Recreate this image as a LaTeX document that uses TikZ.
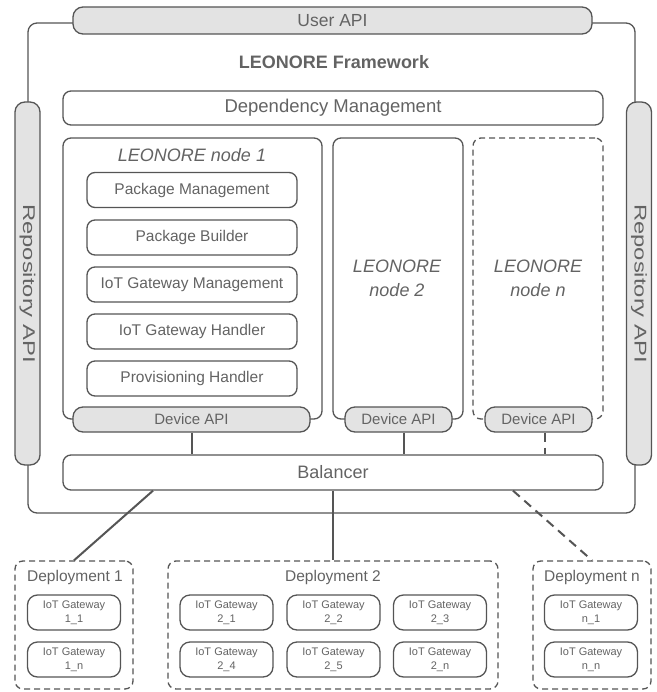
\documentclass[tikz,border=0pt]{standalone}
\usepackage{fontspec}
\setmainfont{Liberation Sans}
\usetikzlibrary{calc}
\definecolor{ln}{HTML}{555555}
\definecolor{tx}{HTML}{636363}
\definecolor{gf}{HTML}{E3E3E3}
\begin{document}
\begin{tikzpicture}[x=1pt,y=-1pt,
  box/.style={draw=ln, line width=1.3pt, rounded corners=8pt, inner sep=0pt, text=tx, align=center},
  api/.style={box, fill=gf, rounded corners=10pt},
  gw/.style={box, rounded corners=10pt, minimum width=93, minimum height=35, font=\fontsize{11}{14}\selectfont},
  inner/.style={box, minimum width=210, minimum height=35, font=\fontsize{15.5}{18}\selectfont},
  dsh/.style={dash pattern=on 6pt off 4pt},
  longdsh/.style={dash pattern=on 9pt off 6pt},
  lbl/.style={text=tx, inner sep=0pt, align=center},
  conn/.style={draw=ln, line width=2pt}]
\useasboundingbox (0,0) rectangle (656,692);
% framework frame
\node[box, rounded corners=9pt, minimum width=607, minimum height=490] (frame) at (331.5,268) {};
% repository APIs
\node[api, minimum width=25, minimum height=363] (repoL) at (27.5,283.5) {};
\node[lbl, rotate=-90, font=\fontsize{17}{20}\selectfont] (repoLt) at (repoL.center) {\scalebox{1.4}[1]{Repository API}};
\node[api, minimum width=25, minimum height=363] (repoR) at (639,283.5) {};
\node[lbl, rotate=-90, font=\fontsize{17}{20}\selectfont] (repoRt) at (repoR.center) {\scalebox{1.4}[1]{Repository API}};
% user API
\node[api, minimum width=519, minimum height=27, font=\fontsize{17.5}{20}\selectfont] (user) at (332.5,20.5) {User API};
% title
\node[lbl, font=\fontsize{18}{22}\selectfont\bfseries] (title) at (334,62) {LEONORE Framework};
% dependency management
\node[box, minimum width=540, minimum height=34, font=\fontsize{18.5}{22}\selectfont] (dep) at (333,108) {Dependency Management};
% LEONORE nodes
\node[box, minimum width=259, minimum height=281] (n1) at (192.5,278.5) {};
\node[lbl, font=\fontsize{18}{22}\selectfont\itshape] (n1t) at (192,155) {LEONORE node 1};
\node[box, minimum width=130, minimum height=281] (n2) at (398,278.5) {};
\node[lbl, font=\fontsize{18}{24}\selectfont\itshape] (n2t) at (397,278) {LEONORE\\node 2};
\node[box, dsh, minimum width=130, minimum height=281] (nn) at (538,278.5) {};
\node[lbl, font=\fontsize{18}{24}\selectfont\itshape] (nnt) at (538,278) {LEONORE\\node n};
% inner components of node 1
\node[inner] (pm) at (192,190) {Package Management};
\node[inner] (pb) at (192,237.5) {Package Builder};
\node[inner] (gm) at (192,284.5) {IoT Gateway Management};
\node[inner] (gh) at (192,331.5) {IoT Gateway Handler};
\node[inner] (ph) at (192,378.5) {Provisioning Handler};
% device APIs
\node[api, minimum width=237, minimum height=25, font=\fontsize{15}{18}\selectfont] (d1) at (191.5,419.5) {Device API};
\node[api, minimum width=107, minimum height=25, font=\fontsize{15}{18}\selectfont] (d2) at (398.5,419.5) {Device API};
\node[api, minimum width=107, minimum height=25, font=\fontsize{15}{18}\selectfont] (dn) at (538.5,419.5) {Device API};
% balancer
\node[box, minimum width=540, minimum height=35, font=\fontsize{18}{22}\selectfont] (bal) at (333,472.5) {Balancer};
% connectors device API -> balancer
\draw[conn] (d1.south) -- (d1.south |- bal.north);
\draw[conn] ($(d2.south)+(5,0)$) coordinate (d2c) -- (d2c |- bal.north);
\draw[conn, longdsh] ($(dn.south)+(6,0)$) coordinate (dnc) -- (dnc |- bal.north);
% deployments
\node[box, dsh, minimum width=118, minimum height=128] (dep1) at (74,625) {};
\node[box, dsh, minimum width=330, minimum height=128] (dep2) at (333,625) {};
\node[box, dsh, minimum width=118, minimum height=128] (depn) at (592,625) {};
\node[lbl, font=\fontsize{15.5}{18}\selectfont, text height=11pt, text depth=3pt] (dep1t) at (75,577) {Deployment 1};
\node[lbl, font=\fontsize{15.5}{18}\selectfont, text height=11pt, text depth=3pt] (dep2t) at (333,577) {Deployment 2};
\node[lbl, font=\fontsize{15.5}{18}\selectfont, text height=11pt, text depth=3pt] (depnt) at (592,577) {Deployment n};
% connectors balancer -> deployments
\draw[conn] ($(bal.south)+(-180,0)$) -- (dep1.north);
\draw[conn] (bal.south) -- (dep2.north);
\draw[conn, longdsh] ($(bal.south)+(180,0)$) -- (depn.north);
% gateways
\node[gw] (g11) at (74,612.5) {IoT Gateway\\1\_1};
\node[gw] (g1n) at (74,659.5) {IoT Gateway\\1\_n};
\node[gw] (g21) at (226.5,612.5) {IoT Gateway\\2\_1};
\node[gw] (g22) at (333.5,612.5) {IoT Gateway\\2\_2};
\node[gw] (g23) at (440,612.5) {IoT Gateway\\2\_3};
\node[gw] (g24) at (226.5,659.5) {IoT Gateway\\2\_4};
\node[gw] (g25) at (333.5,659.5) {IoT Gateway\\2\_5};
\node[gw] (g2n) at (440,659.5) {IoT Gateway\\2\_n};
\node[gw] (gn1) at (591,612.5) {IoT Gateway\\n\_1};
\node[gw] (gnn) at (591,659.5) {IoT Gateway\\n\_n};
\end{tikzpicture}
\end{document}
